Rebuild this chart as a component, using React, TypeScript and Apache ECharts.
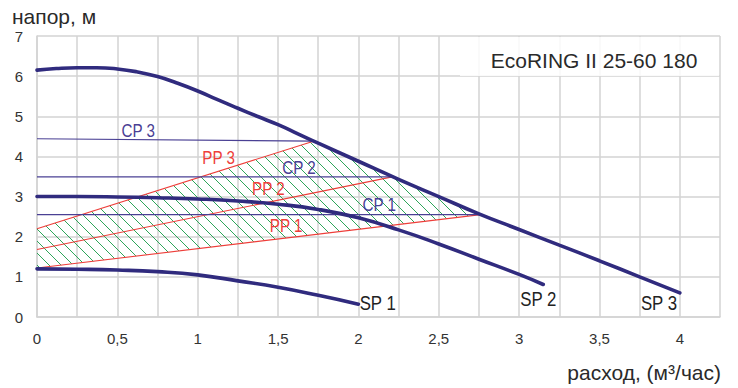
import React, { useEffect, useRef } from 'react';
import * as echarts from 'echarts';

// Pump curves (flow m3/h, head m)
const sp1 = [[0, 1.2], [0.25, 1.19], [0.5, 1.17], [0.75, 1.13], [1, 1.05], [1.25, 0.9], [1.5, 0.74], [1.75, 0.54], [2, 0.32]];
const sp2 = [[0, 3.0], [0.25, 3.0], [0.5, 2.99], [0.75, 2.97], [1, 2.94], [1.25, 2.89], [1.5, 2.81], [1.75, 2.68], [2, 2.47], [2.25, 2.17], [2.5, 1.82], [2.75, 1.44], [3, 1.06], [3.15, 0.81]];
const sp3 = [[0, 6.15], [0.12, 6.19], [0.25, 6.21], [0.37, 6.21], [0.5, 6.18], [0.62, 6.11], [0.75, 5.99], [0.87, 5.83], [1, 5.63], [1.12, 5.42], [1.25, 5.2], [1.37, 5.0], [1.5, 4.79], [1.62, 4.57], [1.75, 4.33], [2, 3.88], [2.25, 3.43], [2.5, 3.0], [2.75, 2.57], [3, 2.18], [3.25, 1.79], [3.5, 1.4], [3.75, 1.0], [4, 0.6]];

// Constant pressure lines (start head, end head, end flow) and proportional pressure start heads
const cpStartHead = [2.55, 3.49, 4.44];
const cpEndHead = [2.55, 3.49, 4.38];
const cpEndFlow = [2.76, 2.21, 1.72];
const ppStartHead = [1.22, 1.68, 2.2];

const cpNames = ['CP 1', 'CP 2', 'CP 3'];
const ppNames = ['PP 1', 'PP 2', 'PP 3'];
const spNames = ['SP 1', 'SP 2', 'SP 3'];

// label anchors (flow, head)
const cpLabelPos = [[2.13, 2.81], [1.63, 3.73], [0.63, 4.66]];
const ppLabelPos = [[1.55, 2.28], [1.44, 3.2], [1.13, 3.97]];
const spLabelPos = [[2.12, 0.35], [3.12, 0.46], [3.87, 0.36]];

const xMax = 4.25;
const yMax = 7;
const title = 'EcoRING II 25-60 180';
const yName = 'напор, м';
const xName = 'расход, (м³/час)';

const SP_COLOR = '#302b7e';
const CP_COLOR = '#4a4094';
const PP_COLOR = '#ee3e3a';
const HATCH_COLOR = '#2ea55a';
const GRID_COLOR = '#d3d3d3';
const FONT = "'Liberation Sans', Arial, sans-serif";

function buildHatchPolygon(): number[][] {
  const poly: number[][] = [];
  poly.push([0, ppStartHead[0]]);
  poly.push([cpEndFlow[0], cpEndHead[0]]);
  const seg = sp3.filter((p) => p[0] < cpEndFlow[0] && p[0] > cpEndFlow[2]);
  for (let i = seg.length - 1; i >= 0; i--) poly.push(seg[i]);
  poly.push([cpEndFlow[2], cpEndHead[2]]);
  poly.push([0, ppStartHead[2]]);
  return poly;
}

export default function App() {
  const ref = useRef<HTMLDivElement>(null);
  useEffect(() => {
    document.body.style.margin = '0';
    if (!ref.current) return;
    const chart = echarts.init(ref.current, undefined, { renderer: 'svg' });
    const hatchPoly = buildHatchPolygon();

    const series: any[] = [];

    series.push({
      type: 'custom',
      silent: true,
      z: 1,
      data: [[0, 0]],
      renderItem: (_params: any, api: any) => {
        const pts = hatchPoly.map((p) => api.coord(p));
        const step = 12;
        let kMin = Infinity;
        let kMax = -Infinity;
        pts.forEach((p: number[]) => {
          const k = p[1] - p[0];
          kMin = Math.min(kMin, k);
          kMax = Math.max(kMax, k);
        });
        const children: any[] = [];
        const n = pts.length;
        for (let k = Math.ceil(kMin / step) * step; k <= kMax; k += step) {
          const xs: number[][] = [];
          for (let i = 0; i < n; i++) {
            const a = pts[i];
            const b = pts[(i + 1) % n];
            const fa = a[1] - a[0] - k;
            const fb = b[1] - b[0] - k;
            if ((fa < 0) !== (fb < 0)) {
              const t = fa / (fa - fb);
              xs.push([a[0] + t * (b[0] - a[0]), a[1] + t * (b[1] - a[1])]);
            }
          }
          xs.sort((p, q) => p[0] - q[0]);
          for (let j = 0; j + 1 < xs.length; j += 2) {
            children.push({
              type: 'line',
              shape: { x1: xs[j][0], y1: xs[j][1], x2: xs[j + 1][0], y2: xs[j + 1][1] },
              style: { stroke: HATCH_COLOR, lineWidth: 1 },
            });
          }
        }
        return { type: 'group', children };
      },
    });

    for (let i = 0; i < 3; i++) {
      series.push({
        type: 'line',
        z: 2,
        symbol: 'none',
        silent: true,
        data: [[0, ppStartHead[i]], [cpEndFlow[i], cpEndHead[i]]],
        lineStyle: { color: PP_COLOR, width: 1.1 },
      });
      series.push({
        type: 'line',
        z: 3,
        symbol: 'none',
        silent: true,
        data: [[0, cpStartHead[i]], [cpEndFlow[i], cpEndHead[i]]],
        lineStyle: { color: CP_COLOR, width: 1.2 },
      });
    }

    [sp1, sp2, sp3].forEach((d) => {
      series.push({
        type: 'line',
        z: 4,
        symbol: 'none',
        silent: true,
        smooth: 0.5,
        data: d,
        lineStyle: { color: SP_COLOR, width: 3.6, cap: 'round' },
      });
    });

    const labelSeries = (names: string[], pos: number[][], color: string, size: number, sx: number) => ({
      type: 'custom',
      z: 5,
      silent: true,
      data: pos.map((p, i) => [p[0], p[1], i]),
      renderItem: (params: any, api: any) => {
        const pt = api.coord([api.value(0), api.value(1)]);
        return {
          type: 'text',
          x: pt[0],
          y: pt[1],
          scaleX: sx,
          style: {
            text: names[params.dataIndex],
            fill: color,
            fontSize: size,
            fontFamily: FONT,
            align: 'center',
            verticalAlign: 'middle',
          },
        };
      },
    });
    series.push(labelSeries(cpNames, cpLabelPos, CP_COLOR, 19, 0.8));
    series.push(labelSeries(ppNames, ppLabelPos, PP_COLOR, 19, 0.8));
    series.push(labelSeries(spNames, spLabelPos, '#222222', 21, 0.8));

    chart.setOption({
      animation: false,
      grid: { left: 37, right: 18, top: 36, bottom: 71, containLabel: false },
      xAxis: {
        type: 'value',
        min: 0,
        max: xMax,
        interval: 0.25,
        axisLine: { show: true, lineStyle: { color: GRID_COLOR, width: 1.5 } },
        axisTick: { show: false },
        splitLine: { show: true, lineStyle: { color: GRID_COLOR, width: 1.5 } },
        axisLabel: {
          margin: 14,
          color: '#333',
          fontSize: 15,
          fontFamily: FONT,
          formatter: (v: number) => {
            const h = v * 2;
            if (Math.abs(h - Math.round(h)) > 1e-6 || v > 4.001) return '';
            return String(v).replace('.', ',');
          },
        },
      },
      yAxis: {
        type: 'value',
        min: 0,
        max: yMax,
        interval: 1,
        axisLine: { show: true, lineStyle: { color: GRID_COLOR, width: 1.5 } },
        axisTick: { show: false },
        splitLine: { show: true, lineStyle: { color: GRID_COLOR, width: 1.5 } },
        axisLabel: {
          margin: 14,
          color: '#333',
          fontSize: 15,
          fontFamily: FONT,
        },
      },
      graphic: [
        {
          type: 'rect',
          shape: { x: 460, y: 37, width: 259, height: 39 },
          style: { fill: 'rgba(255,255,255,0.85)' },
          z: 10,
          silent: true,
        },
        {
          type: 'text',
          x: 594,
          y: 60,
          z: 11,
          style: {
            text: title,
            fill: '#2a2a2a',
            fontSize: 21,
            fontFamily: FONT,
            align: 'center',
            verticalAlign: 'middle',
          },
        },
        {
          type: 'text',
          x: 12,
          y: 16.5,
          style: {
            text: yName,
            fill: '#2a2a2a',
            fontSize: 21,
            fontFamily: FONT,
            align: 'left',
            verticalAlign: 'middle',
          },
        },
        {
          type: 'text',
          x: 721,
          y: 372.5,
          style: {
            text: xName,
            fill: '#2a2a2a',
            fontSize: 21,
            fontFamily: FONT,
            align: 'right',
            verticalAlign: 'middle',
          },
        },
      ],
      series,
    });
    return () => chart.dispose();
  }, []);
  return <div ref={ref} style={{ width: 738, height: 388 }} />;
}
